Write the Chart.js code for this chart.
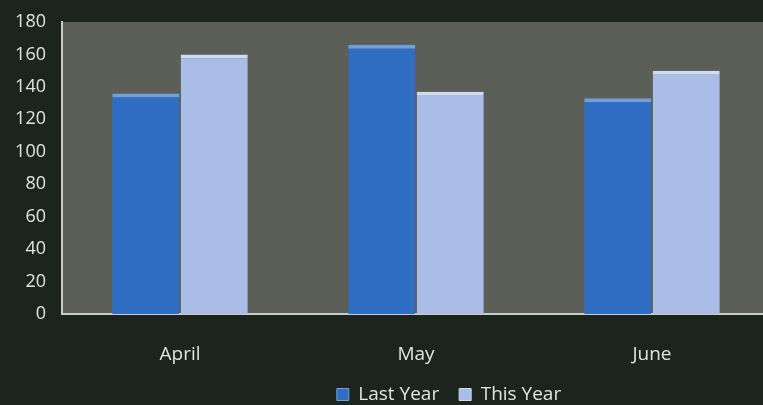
<!DOCTYPE html>
<html>
<head>
<meta charset="utf-8">
<script src="https://cdn.jsdelivr.net/npm/chart.js@4"></script>
<style>
  html, body { margin: 0; padding: 0; background: #1d231d; overflow: hidden; }
  #wrap { width: 770px; height: 405px; }
</style>
</head>
<body>
<div id="wrap"><canvas id="salesChart"></canvas></div>
<script>
const months = ['April', 'May', 'June'];
const lastYear = [136, 166, 133];
const thisYear = [160, 137, 150];
const yTicks = [0, 20, 40, 60, 80, 100, 120, 140, 160, 180];

// Gray plot area behind the bars
const plotBackground = {
    id: 'plotBackground',
    beforeDraw(chart) {
        const { ctx, chartArea: a } = chart;
        ctx.save();
        ctx.fillStyle = '#5b5f58';
        ctx.fillRect(a.left, a.top, a.right - a.left, a.bottom - a.top);
        ctx.restore();
    },
    // legend sits right of centre in the original
    afterLayout(chart) {
        chart.legend.left += 64;
        chart.legend.right += 64;
        chart.legend.top -= 5;
        chart.legend.bottom -= 5;
    }
};

new Chart(document.getElementById('salesChart'), {
    type: 'bar',
    data: {
        labels: months,
        datasets: [{
            label: 'Last Year',
            data: lastYear,
            backgroundColor: '#2f6ec3',
            borderColor: '#6f9fdc',
            borderWidth: { top: 4, left: 0, right: 0, bottom: 0 },
            borderSkipped: 'bottom',
            categoryPercentage: 0.58,
            barPercentage: 0.98
        }, {
            label: 'This Year',
            data: thisYear,
            backgroundColor: '#a9bde7',
            borderColor: '#cfdbf3',
            borderWidth: { top: 4, left: 0, right: 0, bottom: 0 },
            borderSkipped: 'bottom',
            categoryPercentage: 0.58,
            barPercentage: 0.98
        }]
    },
    options: {
        responsive: true,
        maintainAspectRatio: false,
        animation: false,
        // legend padding makes its box tall, so let it hang past the bottom edge
        layout: { padding: { top: 22, bottom: -14 } },
        plugins: {
            legend: {
                position: 'bottom',
                labels: {
                    color: '#e2e4df',
                    font: { family: 'Open Sans', size: 19 },
                    boxWidth: 12,
                    boxHeight: 12,
                    padding: 20
                }
            },
            tooltip: { enabled: false }
        },
        scales: {
            x: {
                afterFit: (scale) => { scale.height = 56; },
                grid: { display: false },
                border: { color: '#c9ccc4', width: 2 },
                ticks: {
                    color: '#e2e4df',
                    font: { family: 'Open Sans', size: 19 },
                    padding: 21
                }
            },
            y: {
                min: 0,
                max: 180,
                afterBuildTicks: (scale) => { scale.ticks = yTicks.map(v => ({ value: v })); },
                afterFit: (scale) => { scale.width = 62; },
                grid: { display: false },
                border: { color: '#c9ccc4', width: 2 },
                ticks: {
                    color: '#e2e4df',
                    font: { family: 'Open Sans', size: 18 },
                    padding: 8
                }
            }
        }
    },
    plugins: [plotBackground]
});
</script>
</body>
</html>
